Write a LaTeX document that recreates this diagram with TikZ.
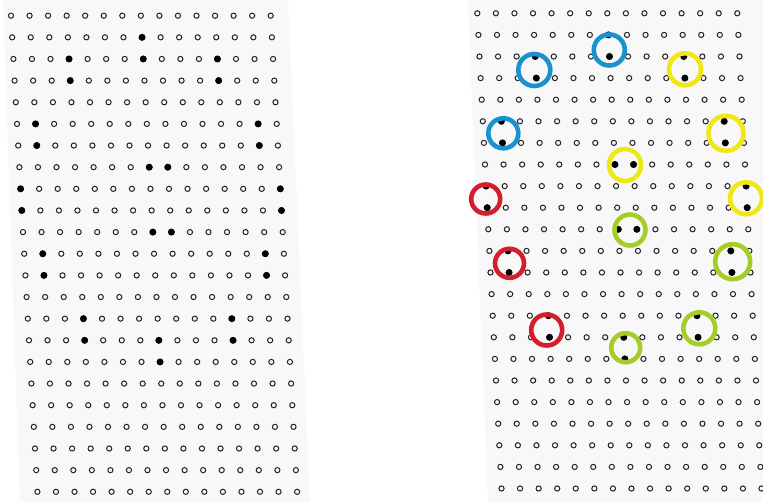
\documentclass[tikz,border=0pt]{standalone}
\definecolor{ringblue}{RGB}{27,146,208}
\definecolor{ringyellow}{RGB}{240,232,20}
\definecolor{ringred}{RGB}{210,30,45}
\definecolor{ringgreen}{RGB}{165,205,40}
\definecolor{dotgray}{RGB}{35,35,35}
\definecolor{bggray}{RGB}{248,248,248}
\tikzset{
  ring/.style={circle,draw=dotgray,line width=1pt,minimum size=5.2pt,inner sep=0pt,outer sep=0pt},
  fdot/.style={circle,fill=black,minimum size=7pt,inner sep=0pt,outer sep=0pt},
  hl/.style={circle,draw=#1,line width=4.6pt,inner sep=0pt,fill=none}
}
\begin{document}
\begin{tikzpicture}[x=1pt,y=-1pt]
\useasboundingbox (0,0) rectangle (763,502);
\fill[white] (0,0) rectangle (763,502);
% faint backgrounds of the two grids
\fill[bggray] (3,0) -- (288,0) -- (310,502) -- (20,502) -- cycle;
\fill[bggray] (468,0) -- (763,0) -- (763,502) -- (488,502) -- cycle;
% grids of rings
\foreach \r in {0,...,22} {
  \foreach \c in {0,...,14} {
    \node[ring] (L-\r-\c) at ({11+1.2*\r+18.55*\c},{15.7+21.64*\r}) {};
    \node[ring] (R-\r-\c) at ({477.3+1.1*\r+18.57*\c},{13.3+21.6*\r}) {};
  }
}
% filled dots (same pattern in both grids)
\foreach \r/\c in {1/7,2/7,2/3,3/3,2/11,3/11,5/1,6/1,5/13,6/13,7/7,7/8,8/0,9/0,8/14,9/14,10/7,10/8,11/1,12/1,11/13,12/13,14/3,15/3,14/11,15/11,15/7,16/7} {
  \node[fdot] (LF-\r-\c) at (L-\r-\c) {};
  \node[fdot] (RF-\r-\c) at (R-\r-\c) {};
}
% highlight circles
\node[hl=ringblue,minimum size=32pt] (b1) at (534.3,70) {};
\node[hl=ringblue,minimum size=31pt] (b2) at (609.3,50) {};
\node[hl=ringblue,minimum size=30pt] (b3) at (503.3,133.3) {};
\node[hl=ringyellow,minimum size=32pt] (y1) at (685,69.3) {};
\node[hl=ringyellow,minimum size=35pt] (y2) at (726,133.3) {};
\node[hl=ringyellow,minimum size=32pt] (y3) at (746,198.3) {};
\node[hl=ringyellow,minimum size=32pt] (y4) at (625,165) {};
\node[hl=ringred,minimum size=29pt] (r1) at (485.7,199) {};
\node[hl=ringred,minimum size=29pt] (r2) at (509.5,263.3) {};
\node[hl=ringred,minimum size=31pt] (r3) at (546.7,330) {};
\node[hl=ringgreen,minimum size=31pt] (g1) at (630,230) {};
\node[hl=ringgreen,minimum size=35pt] (g2) at (732.7,261.7) {};
\node[hl=ringgreen,minimum size=32pt] (g3) at (699.3,328.3) {};
\node[hl=ringgreen,minimum size=29pt] (g4) at (625.7,347.7) {};
\end{tikzpicture}
\end{document}
